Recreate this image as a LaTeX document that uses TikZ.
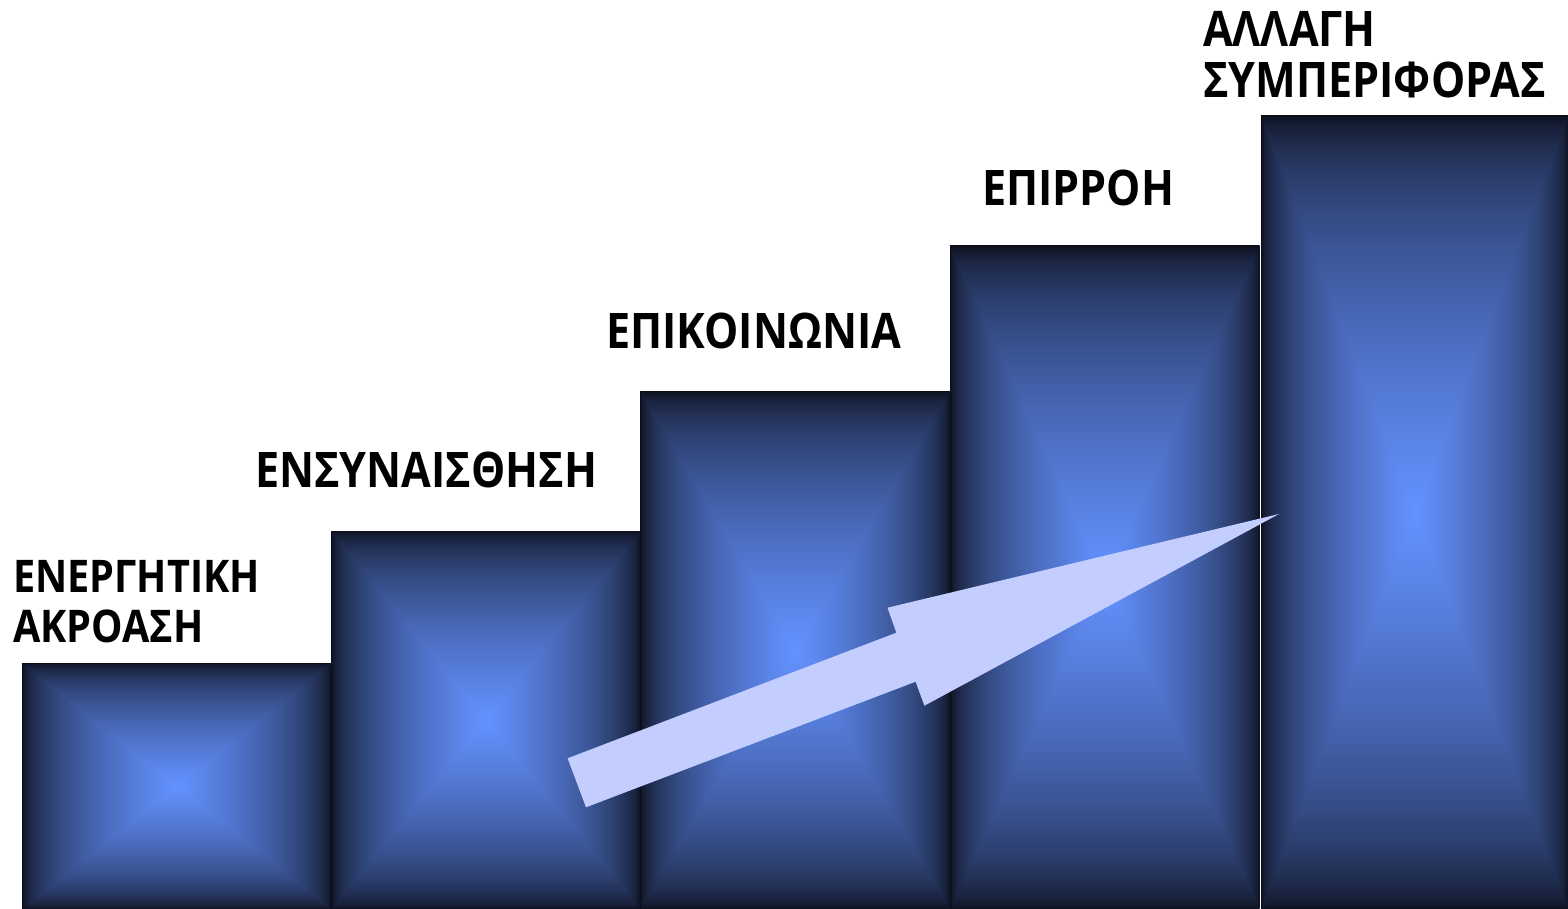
\documentclass[tikz,border=0pt]{standalone}
\usepackage{fontspec}
\newfontfamily\lblfont{Open Sans}[FakeStretch=0.88]
\pgfdeclarefunctionalshading{boxsh}{\pgfpoint{-50bp}{-50bp}}{\pgfpoint{50bp}{50bp}}{}{
abs exch abs 2 copy lt {exch} if pop 25 div dup 1 gt {pop 1} if 1 exch sub 0.55 exp
dup dup 0.91 mul 0.09 add exch 0.52 mul 0.05 add exch 3 -1 roll 0.35 mul 0.04 add 3 1 roll}
\definecolor{arrowfill}{RGB}{195,206,255}
\tikzset{
  bar/.style={shading=boxsh},
  lbl/.style={anchor=base west, inner sep=0pt, align=left, text=black,
    font=\lblfont\bfseries\fontsize{49}{51}\selectfont},
  lblsmall/.style={lbl, font=\lblfont\bfseries\fontsize{45}{50}\selectfont},
  bigarrow/.style={fill=arrowfill, draw=none}
}
\begin{document}
\begin{tikzpicture}[x=1pt,y=-1pt]
\useasboundingbox (0,0) rectangle (1568,909);
\fill[white] (0,0) rectangle (1568,909);
% bars
\path[bar] (22,663) rectangle (331,909);
\path[bar] (331,531) rectangle (640,909);
\path[bar] (640,391) rectangle (950,909);
\path[bar] (950,246) rectangle (1259.5,909);
\path[bar] (1261,116) rectangle (1568,909);
% arrow
\path[bigarrow] (567.6,758.3) -- (896.3,632.7) -- (887.5,607.7) -- (1279,514)
  -- (924.4,705.7) -- (915.6,681.7) -- (586,807.3) -- cycle;
% labels (base anchor = baseline of last line)
\node[lblsmall] (l1) at (13,642) {ΕΝΕΡΓΗΤΙΚΗ\\ΑΚΡΟΑΣΗ};
\node[lbl] (l2) at (255,487) {ΕΝΣΥΝΑΙΣΘΗΣΗ};
\node[lbl] (l3) at (606,348) {ΕΠΙΚΟΙΝΩΝΙΑ};
\node[lbl] (l4) at (982,206) {ΕΠΙΡΡΟΗ};
\node[lbl] (l5) at (1203,98) {ΑΛΛΑΓΗ\\ΣΥΜΠΕΡΙΦΟΡΑΣ};
\end{tikzpicture}
\end{document}
